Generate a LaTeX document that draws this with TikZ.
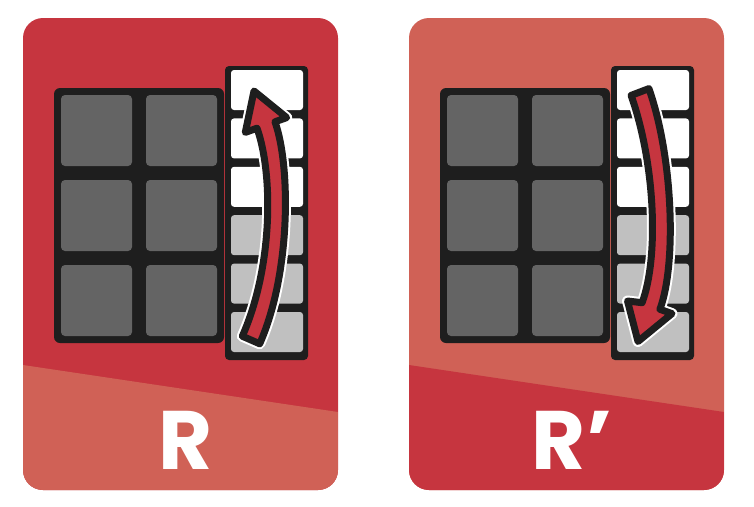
\documentclass[tikz,border=0pt]{standalone}
\usepackage{fontspec}
\newfontfamily\kartenschrift{Poppins}
\usepackage{tikz}
\definecolor{rotdunkel}{HTML}{C6353F}
\definecolor{rothell}{HTML}{D06156}
\definecolor{feldgrau}{HTML}{646464}
\definecolor{kante}{HTML}{1E1E1E}
\definecolor{hellgrau}{HTML}{C0C0C0}

\begin{document}
\begin{tikzpicture}[x=1pt, y=-1pt]
    \tikzset{
        rahmen/.style={fill=kante, rounded corners=6},
        feld/.style={fill=feldgrau, rounded corners=4},
        streifenfeld/.style={rounded corners=3},
        pfeil/.style={fill=rotdunkel, draw=kante, line width=7, line join=round,
            preaction={draw=white, line width=11, line join=round}},
        beschriftung/.style={text=white, anchor=base,
            font=\kartenschrift\bfseries\fontsize{83}{83}\selectfont}
    }
    \useasboundingbox (0,0) rectangle (754,506);

    \foreach \x / \oben / \unten / \label / \stage in {0/rotdunkel/rothell/R/1, 386/rothell/rotdunkel/R’/2} {
        \begin{scope}[xshift=\x pt]
            % Karte mit schraeger Trennkante
            \fill[\oben, rounded corners=20] (23,18) rectangle (338,490);
            \begin{scope}
                \clip[rounded corners=20] (23,18) rectangle (338,490);
                \fill[\unten] (23,365) -- (338,412) -- (338,490) -- (23,490) -- cycle;
            \end{scope}

            % --- Feste Felder (2x3) ---
            \fill[rahmen] (54,88) rectangle (224,343);
            \foreach \i in {0,1} {
                \foreach \j in {0,1,2} {
                    \fill[feld] (61+85*\i, 95+85*\j) rectangle ++(71,71);
                }
            }

            % --- Drehstreifen rechts ---
            \fill[kante, rounded corners=4] (225,66) rectangle (308,360);
            \foreach \k / \farbe in {0/white, 1/white, 2/white, 3/hellgrau, 4/hellgrau, 5/hellgrau} {
                \fill[streifenfeld, \farbe] (231, 70+48.4*\k) rectangle ++(72,40);
            }

            % --- Pfeil ---
            \ifnum \stage=1 % R: nach oben
                \path[pfeil] (242.3,336.2) .. controls (273.3,266.2) and (273.1,173.2) .. (257,128.2)
                    -- (245.3,132.4) -- (254,91) -- (286.7,117.6) -- (275,121.8)
                    .. controls (290.9,166.8) and (290.7,273.8) .. (259.7,343.8) -- cycle;
            \fi
            \ifnum \stage=2 % R': nach unten
                \path[pfeil] (245.1,95.4) .. controls (269.1,163.4) and (273.1,256.7) .. (256.1,302.7)
                    -- (241.5,301) -- (252,341.5) -- (286,313.6) -- (273.9,309.3)
                    .. controls (290.9,263.3) and (286.9,156.6) .. (262.9,88.6) -- cycle;
            \fi

            \node[beschriftung] (titel\stage) at (186,469) {\label};
        \end{scope}
    }
\end{tikzpicture}
\end{document}
